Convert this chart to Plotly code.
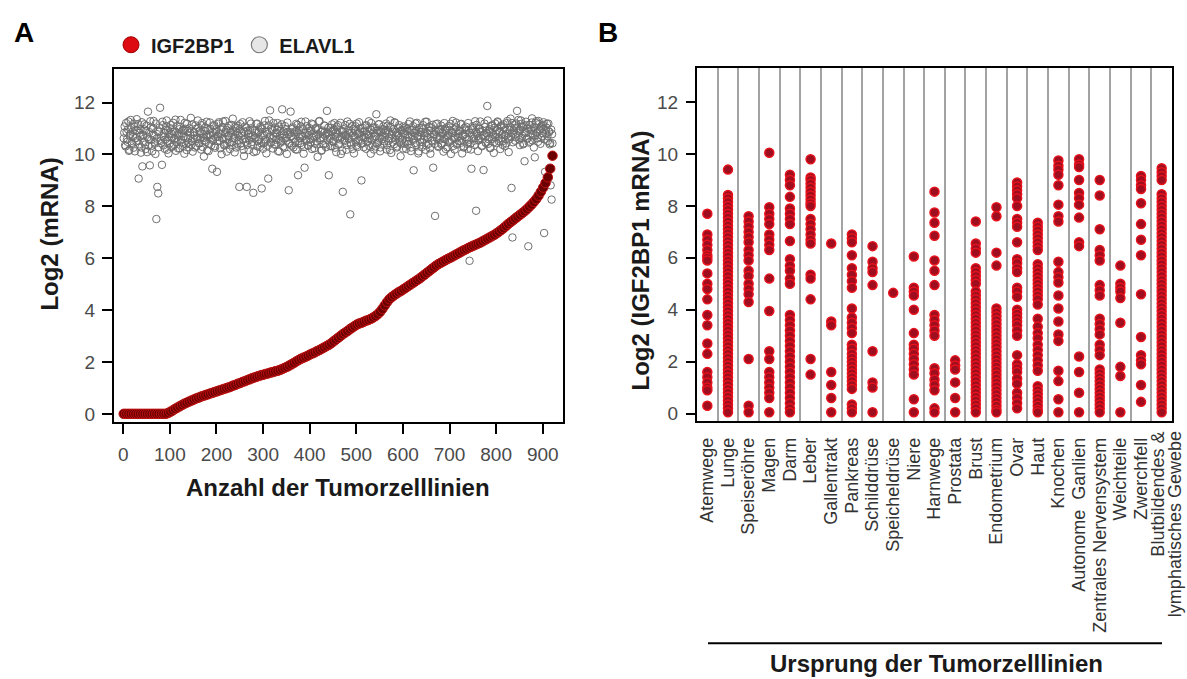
import plotly.graph_objects as go

# ---------------- Panel A data ----------------
# IGF2BP1 log2 mRNA, cell lines sorted by IGF2BP1 (read every 5th rank)
igf2bp1_values = [
    0.0, 0.0, 0.0, 0.0, 0.0, 0.0, 0.0, 0.0, 0.0, 0.0, 0.0, 0.0, 0.0, 0.0, 0.0, 0.0, 0.0, 0.0,
    0.0, 0.03, 0.08, 0.13, 0.19, 0.24, 0.29, 0.34, 0.39, 0.43, 0.47, 0.51, 0.55, 0.59, 0.62,
    0.66, 0.69, 0.72, 0.75, 0.78, 0.81, 0.84, 0.87, 0.90, 0.93, 0.96, 0.99, 1.02, 1.05, 1.09,
    1.12, 1.16, 1.19, 1.23, 1.26, 1.30, 1.33, 1.37, 1.40, 1.43, 1.46, 1.49, 1.51, 1.54, 1.56,
    1.59, 1.61, 1.64, 1.66, 1.69, 1.73, 1.77, 1.81, 1.86, 1.91, 1.96, 2.02, 2.07, 2.12, 2.16,
    2.20, 2.24, 2.29, 2.33, 2.37, 2.42, 2.46, 2.51, 2.56, 2.61, 2.66, 2.72, 2.79, 2.86, 2.93,
    3.00, 3.07, 3.13, 3.19, 3.26, 3.32, 3.38, 3.44, 3.48, 3.51, 3.55, 3.59, 3.62, 3.66, 3.71,
    3.77, 3.84, 3.93, 4.05, 4.18, 4.31, 4.42, 4.50, 4.57, 4.63, 4.69, 4.74, 4.80, 4.86, 4.92,
    4.98, 5.04, 5.10, 5.16, 5.22, 5.29, 5.36, 5.43, 5.50, 5.57, 5.64, 5.71, 5.77, 5.82, 5.87,
    5.92, 5.97, 6.01, 6.06, 6.11, 6.16, 6.21, 6.26, 6.31, 6.35, 6.40, 6.44, 6.48, 6.52, 6.56,
    6.60, 6.65, 6.70, 6.75, 6.80, 6.85, 6.90, 6.96, 7.02, 7.09, 7.16, 7.24, 7.32, 7.39, 7.46,
    7.53, 7.60, 7.67, 7.74, 7.81, 7.89, 7.98, 8.07, 8.17, 8.28, 8.41, 8.56, 8.72, 8.90, 9.12,
    9.45, 9.95,
]
igf2bp1_rank_step = 5

# ELAVL1 log2 mRNA in the same cell lines: odd ranks (1, 3, 5, ...)
elavl1_values_odd = [
    10.62, 11.08, 10.31, 10.87, 10.49, 11.27, 10.18, 10.79, 11.02, 10.41, 10.68, 11.19, 10.12, 10.93, 11.36, 10.54, 9.07, 10.83, 10.97, 10.27,
    9.54, 10.71, 11.16, 10.38, 10.91, 10.09, 11.65, 10.58, 9.58, 11.04, 10.33, 10.76, 11.29, 10.47, 10.02, 7.51, 8.75, 8.50, 10.88, 11.80,
    10.43, 9.60, 11.13, 10.66, 10.22, 10.95, 11.31, 10.52, 10.04, 10.81, 11.01, 10.29, 10.64, 11.22, 10.37, 10.89, 10.14, 11.09, 10.57, 10.78,
    10.24, 11.33, 10.46, 10.92, 10.69, 10.03, 10.99, 10.39, 11.18, 10.61, 10.28, 10.84, 11.41, 10.51, 10.11, 10.86, 10.73, 11.12, 10.32, 10.59,
    11.03, 10.42, 10.82, 10.19, 11.21, 10.63, 9.92, 10.91, 10.48, 11.26, 10.72, 10.13, 10.77, 10.98, 10.36, 9.45, 10.56, 11.14, 10.26, 10.88,
    9.33, 10.68, 11.24, 10.53, 10.79, 10.01, 11.06, 10.61, 10.34, 11.29, 10.94, 10.42, 10.71, 11.11, 10.21, 10.83, 10.47, 11.38, 10.62, 10.08,
    10.89, 11.02, 10.41, 10.73, 8.75, 11.17, 10.32, 10.81, 10.58, 9.94, 11.07, 10.49, 8.75, 10.92, 10.17, 11.28, 10.67, 10.38, 10.97, 8.52,
    10.61, 10.84, 10.12, 11.19, 10.51, 10.88, 10.29, 11.01, 8.69, 10.74, 10.43, 11.12, 10.57, 10.04, 10.79, 9.07, 11.31, 11.70, 10.48, 10.93,
    10.23, 10.69, 11.04, 10.39, 10.82, 11.21, 10.59, 10.11, 10.91, 10.52, 11.74, 10.31, 10.78, 11.09, 10.63, 10.02, 10.87, 8.62, 10.44, 11.65,
    10.72, 10.98, 10.27, 10.81, 10.49, 11.18, 10.19, 9.20, 10.93, 10.62, 11.08, 10.37, 10.71, 10.03, 9.49, 11.27, 10.53, 10.84, 10.33, 11.02,
    10.58, 10.91, 10.21, 11.16, 10.69, 10.42, 10.99, 10.51, 9.91, 10.77, 11.29, 10.63, 10.14, 10.88, 10.39, 11.11, 10.73, 10.28, 11.68, 10.82,
    9.20, 10.61, 11.03, 10.32, 10.89, 10.47, 11.21, 10.68, 10.09, 10.79, 11.13, 10.41, 10.58, 10.02, 10.91, 8.56, 10.97, 10.52, 10.71, 10.18,
    11.27, 10.64, 10.83, 7.69, 10.38, 11.09, 10.72, 10.04, 10.92, 10.49, 11.19, 10.29, 10.81, 10.57, 11.01, 9.00, 10.43, 10.87, 10.67, 11.12,
    10.22, 10.78, 10.51, 11.28, 10.63, 10.03, 10.94, 10.37, 11.04, 10.71, 10.31, 11.55, 10.84, 10.46, 11.17, 10.12, 10.89, 10.59, 10.98, 10.41,
    10.69, 10.93, 10.19, 11.11, 10.52, 10.79, 11.31, 10.06, 10.62, 10.88, 10.39, 11.22, 10.73, 10.27, 10.82, 11.03, 10.48, 9.93, 10.91, 10.57,
    11.08, 10.42, 10.77, 10.21, 10.99, 10.68, 10.51, 11.27, 10.13, 10.94, 10.61, 9.39, 10.83, 11.19, 10.36, 10.72, 10.04, 11.02, 10.47, 10.87,
    10.29, 11.13, 10.58, 10.81, 10.18, 11.26, 10.66, 10.41, 10.92, 10.03, 11.01, 10.53, 9.49, 10.79, 7.63, 11.17, 10.62, 10.33, 10.89, 10.71,
    10.97, 10.38, 10.84, 10.11, 11.21, 10.59, 10.91, 10.28, 10.73, 11.09, 10.49, 10.02, 10.82, 11.29, 10.63, 10.19, 10.88, 11.04, 10.43, 10.68,
    10.92, 10.51, 11.18, 10.04, 10.74, 10.31, 10.79, 11.07, 10.61, 10.22, 10.93, 5.90, 10.42, 9.45, 11.01, 10.69, 10.53, 11.28, 7.83, 10.81,
    10.13, 10.62, 10.99, 10.87, 10.34, 10.71, 9.40, 11.19, 10.48, 10.83, 11.87, 10.41, 10.91, 10.24, 11.11, 10.59, 10.78, 10.06, 11.03, 10.67,
    10.44, 11.27, 10.61, 10.89, 10.21, 11.12, 10.79, 10.52, 11.04, 10.32, 10.73, 11.21, 10.63, 10.09, 10.94, 11.38, 8.71, 6.80, 10.84, 11.02,
    10.53, 11.19, 11.68, 10.72, 10.91, 10.36, 11.31, 10.64, 11.06, 10.43, 9.74, 10.82, 11.13, 10.61, 6.46, 10.98, 10.49, 10.93, 11.39, 10.74,
    10.27, 9.89, 11.22, 10.83, 10.62, 11.29, 10.94, 10.41, 11.03, 10.71, 11.14, 6.97, 9.33, 10.81, 11.18, 10.52, 10.88, 10.39, 8.81, 8.26,
    10.43,
]
# ELAVL1 log2 mRNA: even ranks (2, 4, 6, ...)
elavl1_values_even = [
    10.84, 10.36, 11.21, 10.58, 10.97, 10.14, 10.72, 11.33, 10.45, 10.88, 10.26, 11.06, 10.63, 10.51, 10.93, 11.17, 10.39, 10.69, 10.07, 11.24,
    10.77, 10.48, 10.96, 10.21, 11.11, 10.67, 10.34, 10.86, 11.28, 10.56, 10.12, 10.99, 10.74, 10.42, 11.19, 10.61, 10.89, 10.28, 11.04, 10.53,
    10.71, 11.26, 10.35, 10.82, 10.57, 11.09, 10.18, 10.94, 10.66, 10.43, 11.14, 10.79, 10.31, 10.87, 10.61, 11.34, 10.47, 10.74, 10.23, 10.97,
    11.07, 10.55, 10.81, 10.33, 10.96, 11.22, 10.64, 10.17, 10.89, 10.46, 11.01, 10.73, 10.38, 11.16, 10.59, 10.84, 10.27, 10.99, 10.66, 11.31,
    10.44, 10.91, 10.62, 11.13, 10.29, 10.78, 10.53, 11.04, 10.69, 10.16, 10.93, 10.41, 11.23, 10.74, 10.57, 10.86, 11.09, 10.32, 10.67, 10.98,
    10.52, 11.18, 10.81, 10.24, 10.96, 10.63, 11.27, 10.39, 10.85, 10.58, 10.11, 11.02, 10.72, 10.46, 10.91, 11.14, 10.36, 10.77, 10.64, 11.06,
    10.27, 10.83, 11.11, 10.54, 10.97, 10.42, 10.71, 11.24, 10.18, 10.88, 10.61, 11.03, 10.37, 10.79, 10.56, 10.94, 11.19, 10.48, 10.73, 10.09,
    10.92, 10.66, 11.17, 10.31, 10.84, 10.59, 11.06, 10.43, 10.97, 10.22, 10.76, 11.29, 10.51, 10.87, 10.34, 11.12, 10.68, 10.45, 10.99, 10.62,
    11.21, 10.38, 10.81, 10.57, 10.94, 10.13, 11.08, 10.72, 10.46, 11.16, 10.64, 10.89, 10.26, 10.98, 10.53, 11.23, 10.77, 10.41, 10.86, 10.69,
    10.34, 11.04, 10.61, 10.87, 10.19, 10.93, 11.14, 10.52, 10.78, 10.44, 11.26, 10.67, 10.97, 10.29, 10.83, 10.58, 11.09, 10.36, 10.74, 10.91,
    10.47, 11.19, 10.64, 10.82, 10.24, 11.01, 10.71, 10.39, 10.96, 11.27, 10.55, 10.86, 10.17, 10.92, 10.63, 11.11, 10.43, 10.79, 10.58, 11.03,
    10.73, 10.32, 10.89, 11.16, 10.51, 10.97, 10.26, 10.84, 11.07, 10.62, 10.41, 10.93, 11.22, 10.68, 10.14, 10.87, 10.56, 11.13, 10.76, 10.37,
    10.94, 10.59, 11.18, 10.46, 10.83, 10.21, 10.99, 10.67, 11.09, 10.34, 10.79, 10.53, 11.24, 10.88, 10.42, 10.71, 11.02, 10.28, 10.91, 10.64,
    11.12, 10.49, 10.76, 10.33, 10.97, 11.21, 10.58, 10.84, 10.19, 11.04, 10.69, 10.43, 10.92, 11.16, 10.61, 10.27, 10.86, 10.74, 11.08, 10.51,
    10.82, 11.19, 10.36, 10.93, 10.62, 10.17, 11.06, 10.78, 10.47, 10.98, 11.24, 10.56, 10.87, 10.31, 10.72, 11.13, 10.64, 10.42, 10.95, 10.23,
    10.81, 11.03, 10.52, 10.89, 10.38, 11.17, 10.66, 10.94, 10.27, 10.73, 11.09, 10.57, 10.44, 10.91, 11.22, 10.68, 10.12, 10.86, 10.59, 11.01,
    10.48, 10.97, 10.71, 11.26, 10.35, 10.83, 10.62, 11.07, 10.24, 10.92, 10.54, 11.14, 10.78, 10.41, 10.88, 10.67, 11.19, 10.29, 10.96, 10.58,
    11.11, 10.43, 10.79, 10.61, 10.99, 10.21, 11.04, 10.72, 10.49, 10.93, 11.18, 10.56, 10.84, 10.33, 10.97, 10.64, 11.23, 10.38, 10.81, 10.52,
    10.89, 11.16, 10.46, 10.74, 10.27, 11.02, 10.68, 10.93, 10.41, 11.21, 10.57, 10.83, 10.19, 10.96, 11.09, 10.62, 10.36, 10.87, 11.14, 10.71,
    10.54, 10.98, 11.27, 10.63, 10.32, 10.91, 10.76, 11.06, 10.44, 10.82, 11.31, 10.59, 10.97, 10.26, 10.86, 11.12, 10.67, 10.48, 11.19, 10.79,
    10.93, 11.24, 10.51, 10.87, 11.08, 10.62, 10.37, 11.16, 10.74, 10.96, 10.43, 11.29, 10.81, 10.58, 11.04, 10.69, 11.21, 10.47, 10.92, 11.13,
    10.66, 11.01, 10.84, 11.33, 10.57, 10.95, 11.18, 10.72, 10.39, 11.09, 10.88, 11.26, 10.61, 10.99, 10.46, 11.14, 10.79, 11.23, 10.54, 10.91,
    11.06, 10.73, 11.28, 10.86, 10.49, 11.17, 10.97, 10.64, 11.11, 10.82, 11.24, 10.58, 10.94, 11.03, 10.71, 11.19, 10.87, 10.44, 10.96, 10.78,
]
elavl1_rank_step = 2

x_ticks_a = [0, 100, 200, 300, 400, 500, 600, 700, 800, 900]
y_ticks = [0, 2, 4, 6, 8, 10, 12]

# ---------------- Panel B data ----------------
categories = [
    "Atemwege", "Lunge", "Speiseröhre", "Magen", "Darm", "Leber", "Gallentrakt",
    "Pankreas", "Schilddrüse", "Speicheldrüse", "Niere", "Harnwege", "Prostata",
    "Brust", "Endometrium", "Ovar", "Haut", "Knochen", "Autonome  Ganlien",
    "Zentrales Nervensystem", "Weichteile", "Zwerchfell",
    "Blutbildendes &<br>lymphatisches Gewebe",
]

atemwege = [7.7, 6.9, 6.7, 6.5, 6.3, 6.1, 6.0, 5.9, 5.4, 5.0, 4.8, 4.4, 3.8, 3.4, 2.7, 2.3, 1.6, 1.4, 1.2, 1.0, 0.9, 0.3]
lunge = [9.4, 8.42, 8.3, 8.15, 8.0, 7.85, 7.7, 7.55, 7.4, 7.25, 7.1, 6.95, 6.8, 6.65, 6.5, 6.35, 6.2, 6.05,
         5.9, 5.75, 5.6, 5.45, 5.3, 5.15, 5.0, 4.85, 4.7, 4.55, 4.4, 4.25, 4.1, 3.95, 3.8, 3.65, 3.5, 3.35,
         3.2, 3.05, 2.9, 2.75, 2.6, 2.45, 2.3, 2.15, 2.0, 1.85, 1.7, 1.55, 1.4, 1.25, 1.1, 0.95, 0.8, 0.65,
         0.5, 0.35, 0.2, 0.05]
speiseroehre = [7.6, 7.4, 7.2, 7.0, 6.8, 6.6, 6.3, 6.1, 5.9, 5.5, 5.3, 5.0, 4.8, 4.6, 4.3, 2.1, 0.3, 0.05]
magen = [10.05, 7.95, 7.7, 7.5, 7.3, 6.9, 6.7, 6.5, 6.3, 5.2, 3.95, 2.4, 2.1, 1.6, 1.4, 1.2, 1.0, 0.8, 0.6, 0.05]
darm = [9.2, 9.0, 8.8, 8.35, 7.9, 7.7, 7.5, 7.3, 6.65, 5.95, 5.7, 5.5, 5.2, 5.0, 3.8, 3.6, 3.4, 3.2, 3.0,
        2.8, 2.6, 2.4, 2.2, 2.0, 1.8, 1.6, 1.4, 1.2, 1.0, 0.8, 0.6, 0.4, 0.2, 0.05]
leber = [9.8, 9.1, 9.0, 8.85, 8.7, 8.55, 8.4, 8.25, 8.1, 8.0, 7.5, 7.3, 7.1, 6.9, 6.7, 6.55, 5.35, 5.2, 4.4, 2.1, 1.5]
gallentrakt = [6.55, 3.55, 3.4, 1.6, 1.1, 0.6, 0.05]
pankreas = [6.9, 6.75, 6.6, 6.1, 5.6, 5.35, 5.1, 4.85, 4.05, 3.7, 3.5, 3.3, 3.1, 2.65, 2.5, 2.3, 2.15, 2.0,
            1.85, 1.7, 1.55, 1.4, 1.25, 1.1, 0.95, 0.35, 0.2, 0.05]
schilddruese = [6.45, 5.85, 5.6, 5.45, 4.95, 2.4, 1.2, 1.0, 0.05]
speicheldruese = [4.65]
niere = [6.05, 4.85, 4.7, 4.55, 4.0, 3.1, 2.65, 2.5, 2.3, 2.1, 1.9, 1.7, 1.5, 0.55, 0.05]
harnwege = [8.55, 7.75, 7.35, 6.85, 5.9, 5.5, 4.95, 3.8, 3.6, 3.4, 3.2, 3.0, 1.75, 1.55, 1.3, 1.1, 0.9, 0.2, 0.05]
prostata = [2.05, 1.85, 1.7, 1.2, 0.6, 0.05]
brust = [7.4, 6.55, 6.35, 6.2, 5.6, 5.45, 5.3, 5.15, 5.0, 4.7, 4.55, 4.4, 4.25, 4.1, 3.95, 3.8, 3.65, 3.5,
         3.35, 3.2, 3.05, 2.9, 2.75, 2.6, 2.45, 2.3, 2.15, 2.0, 1.85, 1.7, 1.55, 1.4, 1.25, 1.1, 0.95, 0.8,
         0.65, 0.5, 0.35, 0.2, 0.05]
endometrium = [7.95, 7.6, 6.2, 5.7, 4.05, 3.9, 3.75, 3.6, 3.45, 3.3, 3.15, 3.0, 2.85, 2.7, 2.55, 2.4, 2.25,
               2.1, 1.95, 1.8, 1.65, 1.5, 1.35, 1.2, 1.05, 0.9, 0.75, 0.6, 0.45, 0.3, 0.15, 0.05]
ovar = [8.9, 8.75, 8.6, 8.45, 8.3, 8.0, 7.5, 7.35, 7.2, 6.6, 5.95, 5.8, 5.6, 5.45, 4.85, 4.7, 4.5, 4.0, 3.85,
        3.7, 3.55, 3.4, 3.2, 3.0, 2.25, 1.9, 1.75, 1.6, 1.35, 1.15, 0.8, 0.6, 0.4, 0.2]
haut = [7.35, 7.2, 7.05, 6.9, 6.75, 6.6, 6.45, 6.3, 5.75, 5.6, 5.45, 5.3, 5.15, 5.0, 4.85, 4.7, 4.55, 4.4,
        4.2, 3.65, 3.35, 3.1, 2.9, 2.65, 2.45, 2.25, 2.05, 1.85, 1.65, 1.05, 0.9, 0.75, 0.6, 0.45, 0.3,
        0.15, 0.05]
knochen = [9.75, 9.55, 9.4, 9.2, 8.8, 8.05, 7.6, 7.4, 5.85, 5.45, 5.25, 5.05, 4.55, 4.05, 3.55, 3.05, 2.8,
           1.65, 1.25, 0.55, 0.05]
autonome_ganglien = [9.8, 9.6, 9.5, 9.0, 8.5, 8.3, 8.05, 7.55, 6.6, 6.45, 2.2, 1.6, 0.8, 0.05]
zns = [9.0, 8.4, 7.1, 6.3, 6.1, 5.9, 4.95, 4.75, 4.55, 3.65, 3.45, 3.25, 3.05, 2.65, 2.45, 2.25, 1.7, 1.55,
       1.4, 1.25, 1.1, 0.95, 0.8, 0.65, 0.5, 0.35, 0.2, 0.05]
weichteile = [5.7, 5.0, 4.85, 4.7, 4.45, 3.5, 1.8, 1.45, 0.05]
zwerchfell = [9.15, 9.0, 8.8, 8.65, 8.1, 7.3, 6.7, 6.1, 4.6, 2.95, 2.25, 2.05, 1.9, 1.1, 0.45]
blut = [9.45, 9.3, 9.15, 9.0, 8.45, 8.3, 8.15, 8.0, 7.85, 7.7, 7.55, 7.4, 7.25, 7.1, 6.95, 6.8, 6.65, 6.5,
        6.35, 6.2, 6.05, 5.9, 5.75, 5.6, 5.45, 5.3, 5.15, 5.0, 4.85, 4.7, 4.55, 4.4, 4.25, 4.1, 3.95, 3.8,
        3.65, 3.5, 3.35, 3.2, 3.05, 2.9, 2.75, 2.6, 2.45, 2.3, 2.15, 2.0, 1.85, 1.7, 1.55, 1.4, 1.25, 1.1,
        0.95, 0.8, 0.65, 0.5, 0.35, 0.2, 0.05]

tissue_values = [atemwege, lunge, speiseroehre, magen, darm, leber, gallentrakt, pankreas,
                 schilddruese, speicheldruese, niere, harnwege, prostata, brust, endometrium,
                 ovar, haut, knochen, autonome_ganglien, zns, weichteile, zwerchfell, blut]

# ---------------- Figure ----------------
W, H = 1187, 679
FONT = "Arial, 'Liberation Sans', Helvetica, sans-serif"


def px(x):
    return x / W


def py(y):
    return 1 - y / H


fig = go.Figure()

igf_ranks = [1 + igf2bp1_rank_step * i for i in range(len(igf2bp1_values))]
elavl_x = ([1 + elavl1_rank_step * i for i in range(len(elavl1_values_odd))]
           + [2 + elavl1_rank_step * i for i in range(len(elavl1_values_even))])
elavl_y = elavl1_values_odd + elavl1_values_even

fig.add_trace(go.Scatter(
    x=elavl_x, y=elavl_y, mode="markers", showlegend=False,
    marker=dict(symbol="circle", size=7.5, color="rgba(255,255,255,0)",
                line=dict(color="#6f6f6f", width=1)),
    xaxis="x", yaxis="y", hoverinfo="skip"))

fig.add_trace(go.Scatter(
    x=igf_ranks, y=igf2bp1_values, mode="markers", showlegend=False,
    marker=dict(symbol="circle", size=9.5, color="#6a0000",
                line=dict(color="#c01010", width=1)),
    xaxis="x", yaxis="y", hoverinfo="skip"))

# legend entries
fig.add_trace(go.Scatter(
    x=[None], y=[None], mode="markers", name="IGF2BP1",
    marker=dict(size=18, color="#dd0a12", line=dict(color="#a00000", width=1)),
    xaxis="x", yaxis="y"))
fig.add_trace(go.Scatter(
    x=[None], y=[None], mode="markers", name="ELAVL1",
    marker=dict(size=18, color="#e6e6e6", line=dict(color="#7a7a7a", width=1.2)),
    xaxis="x", yaxis="y"))

# Panel B dots
for i, vals in enumerate(tissue_values):
    fig.add_trace(go.Scatter(
        x=[i] * len(vals), y=vals, mode="markers", showlegend=False,
        marker=dict(symbol="circle", size=9, color="#9e0e1e",
                    line=dict(color="#e8121c", width=1.5)),
        xaxis="x2", yaxis="y2", hoverinfo="skip"))

tick_font = dict(family=FONT, size=19, color="#4a4a4a")
bold = dict(family=FONT, size=24, color="#1a1a1a")
cat_font = dict(family=FONT, size=18, color="#333333")

separators = [i + 0.5 for i in range(len(categories) - 1)]
# last (two-line) category label is placed as two right-shifted annotations
ticktext_b = categories[:-1] + [""]
last_label_lines = categories[-1].split("<br>")

fig.update_layout(
    width=W, height=H,
    margin=dict(l=0, r=0, t=0, b=0),
    paper_bgcolor="white", plot_bgcolor="white",
    font=dict(family=FONT),
    showlegend=True,
    legend=dict(orientation="h", x=px(111), y=py(45), xanchor="left", yanchor="middle",
                font=dict(family=FONT, size=20, color="#1a1a1a", weight="bold"),
                itemsizing="trace", bgcolor="rgba(0,0,0,0)", tracegroupgap=0),
    xaxis=dict(domain=[px(114), px(563)], range=[-19.9, 943.5],
               tickmode="array", tickvals=x_ticks_a,
               ticks="outside", ticklen=10, tickwidth=1.5, tickcolor="black",
               showline=True, linewidth=2, linecolor="black", mirror=True,
               showgrid=False, zeroline=False, tickfont=tick_font,
               ticklabelstandoff=4),
    yaxis=dict(domain=[py(425), py(69)], range=[-0.333, 13.31],
               tickmode="array", tickvals=y_ticks,
               ticks="outside", ticklen=10, tickwidth=1.5, tickcolor="black",
               showline=True, linewidth=2, linecolor="black", mirror=True,
               showgrid=False, zeroline=False, tickfont=tick_font,
               ticklabelstandoff=3),
    xaxis2=dict(domain=[px(697), px(1172)], range=[-0.5, len(categories) - 0.5],
                tickmode="array", tickvals=list(range(len(categories))), ticktext=ticktext_b,
                tickangle=-90, ticks="", showline=True, linewidth=2, linecolor="black",
                mirror=True, showgrid=False, zeroline=False, anchor="y2",
                tickfont=cat_font, ticklabelstandoff=8,
                minor=dict(tickmode="array", tickvals=separators, showgrid=True,
                           gridcolor="#a3a3a3", gridwidth=1.5, ticks="")),
    yaxis2=dict(domain=[py(423), py(68)], range=[-0.268, 13.33], anchor="x2",
                tickmode="array", tickvals=y_ticks,
                ticks="outside", ticklen=9, tickwidth=1.5, tickcolor="black",
                showline=True, linewidth=2, linecolor="black", mirror=True,
                showgrid=False, zeroline=False, tickfont=tick_font,
                ticklabelstandoff=4),
)

annotations = [
    dict(text="<b>A</b>", x=px(24), y=py(33), font=dict(family=FONT, size=28, color="black")),
    dict(text="<b>B</b>", x=px(608), y=py(33), font=dict(family=FONT, size=28, color="black")),
    dict(text="<b>Log2 (mRNA)</b>", x=px(50), y=py(236), textangle=-90, font=bold),
    dict(text="<b>Anzahl der Tumorzelllinien</b>", x=px(338), y=py(490), font=bold),
    dict(text="<b>Log2 (IGF2BP1 mRNA)</b>", x=px(640), y=py(262), textangle=-90, font=bold),
    dict(text="<b>Ursprung der Tumorzelllinien</b>", x=px(936), y=py(667), font=bold),
]
for a in annotations:
    a.update(xref="paper", yref="paper", showarrow=False, xanchor="center", yanchor="middle")
for line_text, shift in zip(last_label_lines, [-4, 14]):
    annotations.append(dict(
        text=line_text, xref="x2", x=len(categories) - 1, xshift=shift,
        yref="paper", y=py(432), xanchor="center", yanchor="top", textangle=-90,
        showarrow=False, font=cat_font))
fig.update_layout(annotations=annotations)

fig.add_shape(type="line", xref="paper", yref="paper",
              x0=px(708), x1=px(1162), y0=py(647), y1=py(647),
              line=dict(color="black", width=2))

fig.write_html("out.html")
